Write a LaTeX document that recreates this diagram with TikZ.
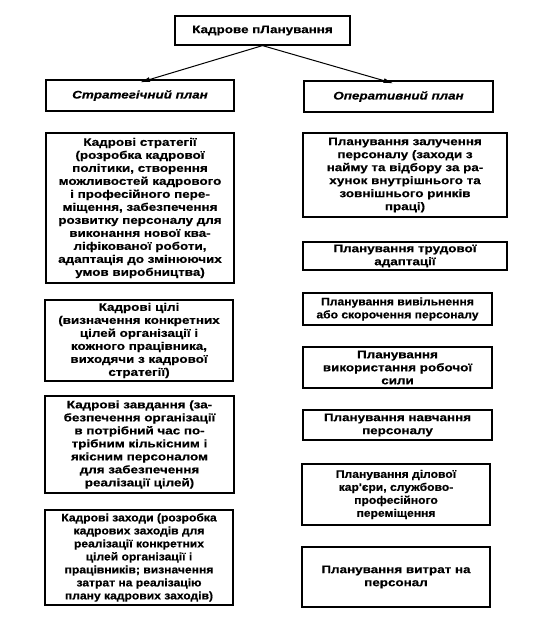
\documentclass[tikz,border=0pt]{standalone}
\usepackage{fontspec}
\setmainfont{Liberation Sans}
\newfontfamily\boxfont{Liberation Sans Bold}[FakeStretch=1.22,FakeBold=0.6]
\newfontfamily\boxitfont{Liberation Sans Bold Italic}[FakeStretch=1.22,FakeBold=0.6]
\newfontfamily\narrowfont{Liberation Sans Bold}[FakeStretch=1.1,FakeBold=0.6]
\usetikzlibrary{arrows.meta}
\begin{document}
\begin{tikzpicture}[x=1pt,y=-1pt,
  box/.style={draw, line width=1.2pt, align=center, inner sep=0pt,
    font=\boxfont\fontsize{11}{13}\selectfont},
  nbox/.style={box, font=\narrowfont\fontsize{11}{13}\selectfont},
  head/.style={box, font=\boxitfont\fontsize{11}{13}\selectfont},
  arr/.style={line width=1pt, -{Latex[length=10pt,width=5pt]}}]
\useasboundingbox (0,0) rectangle (539,624);
\fill[white] (0,0) rectangle (539,624);

\node[box, minimum width=175pt, minimum height=29pt] (top) at (262.5,30.5) {Кадрове пЛанування};
\node[head, minimum width=188pt, minimum height=31pt] (strat) at (140,95.5) {Стратегічний план};
\node[head, minimum width=189pt, minimum height=31pt] (oper) at (398.5,96.5) {Оперативний план};

\draw[arr] (top.south) -- ([yshift=-3pt]strat.north);
\draw[arr] (top.south) -- ([xshift=-5pt,yshift=-3pt]oper.north);

% left column
\node[box, minimum width=188pt, minimum height=150pt] (l1) at (140,208) {Кадрові стратегії\\(розробка кадрової\\політики, створення\\можливостей кадрового\\і професійного пере-\\міщення, забезпечення\\розвитку персоналу для\\виконання нової ква-\\ліфікованої роботи,\\адаптація до змінюючих\\умов виробництва)};
\node[box, minimum width=188pt, minimum height=81pt] (l2) at (139,340.5) {Кадрові цілі\\(визначення конкретних\\цілей організації і\\кожного працівника,\\виходячи з кадрової\\стратегії)};
\node[box, minimum width=189pt, minimum height=97pt] (l3) at (139.5,444.5) {Кадрові завдання (за-\\безпечення організації\\в потрібний час по-\\трібним кількісним і\\якісним персоналом\\для забезпечення\\реалізації цілей)};
\node[nbox, minimum width=188pt, minimum height=95pt] (l4) at (139,557.5) {Кадрові заходи (розробка\\кадрових заходів для\\реалізації конкретних\\цілей організації і\\працівників; визначення\\затрат на реалізацію\\плану кадрових заходів)};

% right column
\node[box, minimum width=204pt, minimum height=84pt] (r1) at (405,175) {Планування залучення\\персоналу (заходи з\\найму та відбору за ра-\\хунок внутрішнього та\\зовнішнього ринків\\праці)};
\node[box, minimum width=204pt, minimum height=28pt] (r2) at (405,256) {Планування трудової\\адаптації};
\node[nbox, minimum width=189pt, minimum height=32pt] (r3) at (397.5,309) {Планування вивільнення\\або скорочення персоналу};
\node[box, minimum width=189pt, minimum height=41pt] (r4) at (397.5,367.5) {Планування\\використання робочої\\сили};
\node[box, minimum width=189pt, minimum height=30pt] (r5) at (397.5,425) {Планування навчання\\персоналу};
\node[nbox, minimum width=188pt, minimum height=61pt] (r6) at (396,494.5) {Планування ділової\\кар'єри, службово-\\професійного\\переміщення};
\node[box, minimum width=188pt, minimum height=60pt] (r7) at (396,577) {Планування витрат на\\персонал};
\end{tikzpicture}
\end{document}
